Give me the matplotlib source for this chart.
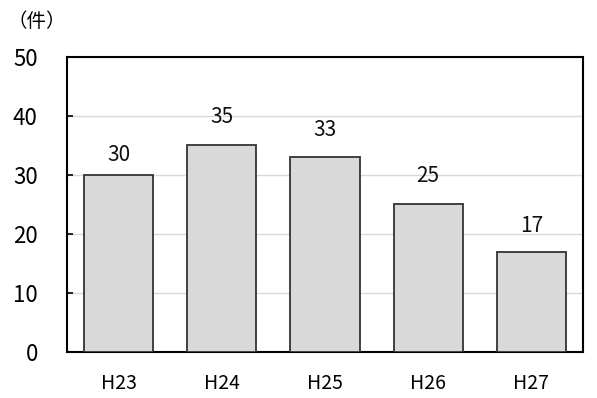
import matplotlib
matplotlib.use("Agg")
import matplotlib.pyplot as plt

plt.rcParams['font.family'] = ['Noto Sans CJK JP', 'DejaVu Sans']

categories = ["H23", "H24", "H25", "H26", "H27"]
values = [30, 35, 33, 25, 17]
yticks = [0, 10, 20, 30, 40, 50]

# label offsets above bars (layout, in data units)
label_offsets = [3.4, 4.8, 4.6, 4.9, 4.4]

fig = plt.figure(figsize=(5.97, 3.98), dpi=100)
ax = fig.add_axes([0.1122, 0.1156, 0.8643, 0.7412])

x = range(len(categories))
ax.bar(x, values, width=0.67, color="#d9d9d9", edgecolor="#333333", linewidth=1.3, zorder=3)
for xi, v, off in zip(x, values, label_offsets):
    ax.text(xi, v + off, str(v), ha="center", va="center", fontsize=15, color="#111111")

ax.set_xlim(-0.5, len(categories) - 0.5)
ax.set_ylim(0, 50)
ax.set_yticks(yticks)
ax.set_yticklabels([str(t) for t in yticks], fontsize=16)
ax.set_xticks(list(x))
ax.set_xticklabels(categories, fontsize=14)
ax.tick_params(axis="y", direction="in", length=4, width=1.2, pad=21)
ax.tick_params(axis="x", length=0, pad=15)
ax.grid(axis="y", color="#d9d9d9", linewidth=1, zorder=0)
for s in ax.spines.values():
    s.set_linewidth(1.5)
    s.set_color("black")

fig.text(0.012, 0.945, "（件）", fontsize=14, ha="left", va="center")

fig.savefig("out.png", dpi=100)
